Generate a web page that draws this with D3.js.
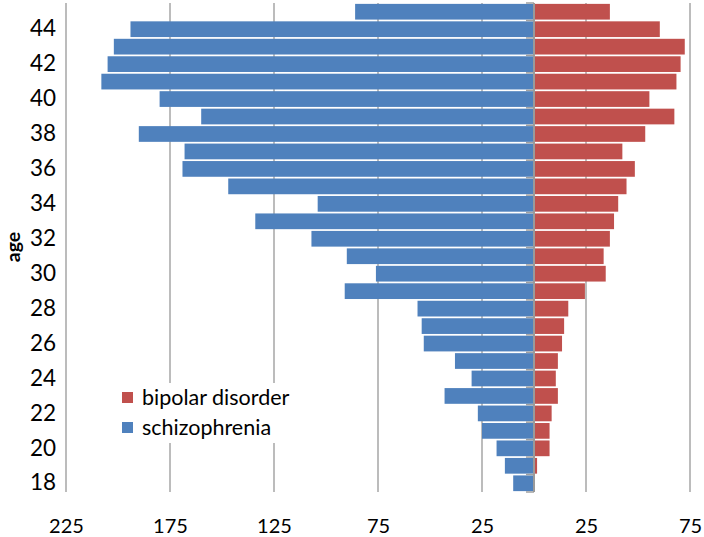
<!DOCTYPE html>
<html>
<head>
<meta charset="utf-8">
<script src="https://cdn.jsdelivr.net/npm/d3@7"></script>
<style>
  html, body { margin: 0; padding: 0; background: #fff; }
  svg { display: block; font-family: Lato, "Open Sans", sans-serif; }
</style>
</head>
<body>
<svg id="chart" width="704" height="537"></svg>
<script>
// ages from top (45) to bottom (18)
const ages = [45,44,43,42,41,40,39,38,37,36,35,34,33,32,31,30,29,28,27,26,25,24,23,22,21,20,19,18];
const schizophrenia = [86,194,202,205,208,180,160,190,168,169,147,104,134,107,90,76,91,56,54,53,38,30,43,27,25,18,14,10];
const bipolar = [36,60,72,70,68,55,67,53,42,48,44,40,38,36,33,34,24,16,14,13,11,10,11,8,7,7,1,0];
const xTicks = [-225,-175,-125,-75,-25,25,75];
const yTickAges = [18,20,22,24,26,28,30,32,34,36,38,40,42,44];
const seriesNames = ["bipolar disorder", "schizophrenia"];
const colors = {"bipolar disorder": "#c0504d", "schizophrenia": "#4f81bd"};

const svg = d3.select("#chart");
const pLeft = 66, pRight = 690, pTop = 3, pBottom = 492;

const x = d3.scaleLinear().domain([-225, 75]).range([pLeft, pRight]);
const y = d3.scaleBand().domain(ages).range([pTop, pBottom]).paddingInner(0.1).paddingOuter(0.05);

// gridlines
svg.append("g").selectAll("line").data(xTicks).join("line")
  .attr("x1", d => x(d)).attr("x2", d => x(d))
  .attr("y1", pTop).attr("y2", pBottom)
  .attr("stroke", "#a6a6a6").attr("stroke-width", 1.5);

// bars
const rows = ages.map((a, i) => ({age: a, s: schizophrenia[i], b: bipolar[i]}));
svg.append("g").selectAll("rect").data(rows).join("rect")
  .attr("x", d => x(-d.s)).attr("width", d => x(0) - x(-d.s))
  .attr("y", d => y(d.age)).attr("height", y.bandwidth())
  .attr("fill", colors["schizophrenia"]);
svg.append("g").selectAll("rect").data(rows.filter(d => d.b > 0)).join("rect")
  .attr("x", x(0) + 1).attr("width", d => x(d.b) - x(0))
  .attr("y", d => y(d.age)).attr("height", y.bandwidth())
  .attr("fill", colors["bipolar disorder"]);

// center axis with ticks at category boundaries
const boundaries = d3.range(ages.length + 1).map(i => pTop + i * (pBottom - pTop) / ages.length);
svg.append("g").selectAll("line").data(boundaries).join("line")
  .attr("x1", x(0) - 8).attr("x2", x(0))
  .attr("y1", d => d).attr("y2", d => d)
  .attr("stroke", "#a0a0a0").attr("stroke-width", 1.5);
svg.append("line")
  .attr("x1", x(0)).attr("x2", x(0))
  .attr("y1", pTop).attr("y2", pBottom)
  .attr("stroke", "#9a9a9a").attr("stroke-width", 2);

// x axis labels
const xAxis = d3.axisBottom(x).tickValues(xTicks).tickFormat(d => Math.abs(d)).tickSize(0).tickPadding(0);
const gx = svg.append("g").attr("transform", `translate(0, 519)`).call(xAxis);
gx.select(".domain").remove();
gx.selectAll("text").attr("font-size", 20).attr("fill", "#000")
  .attr("font-family", "Lato, sans-serif").attr("dy", "0.71em");

// y axis labels
const yAxis = d3.axisLeft(y).tickValues(yTickAges).tickSize(0).tickPadding(0);
const gy = svg.append("g").attr("transform", `translate(56, 0)`).call(yAxis);
gy.select(".domain").remove();
gy.selectAll("text").attr("font-size", 22.5).attr("fill", "#000")
  .attr("font-family", "Lato, sans-serif");

// y title
svg.append("text")
  .attr("transform", "translate(20, 247) rotate(-90)")
  .attr("text-anchor", "middle")
  .attr("font-size", 19.5).attr("font-weight", "bold")
  .text("age");

// legend
const lg = svg.append("g");
lg.append("rect").attr("x", 112).attr("y", 383).attr("width", 190).attr("height", 60).attr("fill", "#fff");
const items = lg.selectAll("g.item").data(seriesNames).join("g")
  .attr("transform", (d, i) => `translate(122, ${392 + i * 30})`);
items.append("rect").attr("width", 11).attr("height", 11).attr("fill", d => colors[d]);
items.append("text").attr("x", 20).attr("y", 5.5).attr("dy", "0.35em")
  .attr("font-size", 21.5).text(d => d);
</script>
</body>
</html>
